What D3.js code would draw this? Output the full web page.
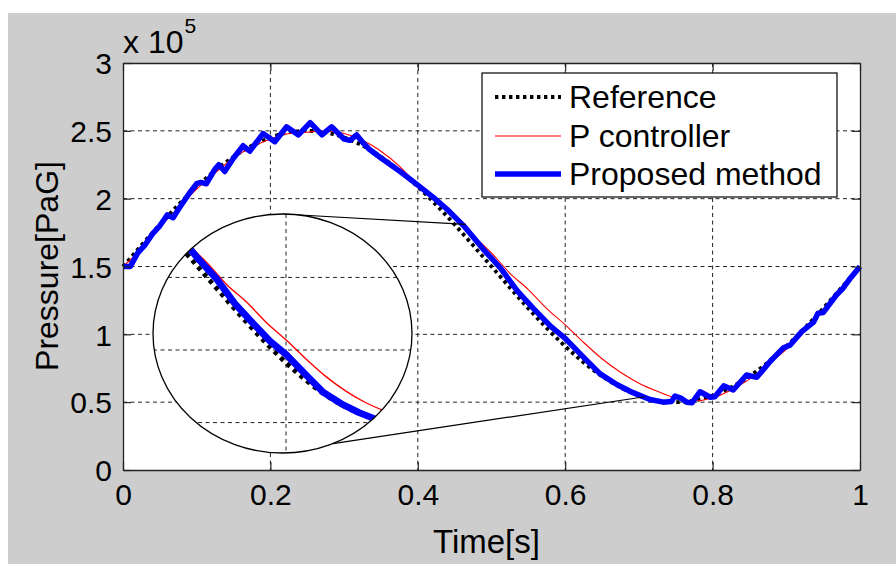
<!DOCTYPE html>
<html><head><meta charset="utf-8">
<script src="https://cdn.jsdelivr.net/npm/d3@7"></script>
<style>
body{margin:0;background:#fff;}
svg{display:block;font-family:"Liberation Sans",Arial,sans-serif;}
</style>
</head><body>
<svg id="chart" width="896" height="564"></svg>
<script>
// ---------- DATA (pressure in units of 1e5 PaG) ----------
const xTickValues = [0, 0.2, 0.4, 0.6, 0.8, 1];
const xTickLabels = ["0", "0.2", "0.4", "0.6", "0.8", "1"];
const yTickValues = [0, 0.5, 1, 1.5, 2, 2.5, 3];
const yTickLabels = ["0", "0.5", "1", "1.5", "2", "2.5", "3"];
const seriesNames = ["Reference", "P controller", "Proposed method"];

const refTime = [0,0.025,0.05,0.075,0.1,0.125,0.15,0.175,0.2,0.225,0.25,0.275,0.3,0.325,0.35,0.375,0.4,0.425,0.45,0.475,0.5,
  0.525,0.55,0.575,0.6,0.625,0.65,0.675,0.7,0.725,0.75,0.775,0.8,0.825,0.85,0.875,0.9,0.925,0.95,0.975,1];
const refPressure = [1.5,1.656,1.809,1.954,2.088,2.207,2.309,2.391,2.451,2.488,2.5,2.488,2.451,2.391,2.309,2.207,2.088,1.954,1.809,1.656,1.5,
  1.344,1.191,1.046,0.912,0.793,0.691,0.609,0.549,0.512,0.5,0.512,0.549,0.609,0.691,0.793,0.912,1.046,1.191,1.344,1.5];

const pTime = [0,0.025,0.05,0.075,0.1,0.125,0.15,0.175,0.2,0.225,0.25,0.275,0.3,0.325,0.35,0.375,0.4,0.425,0.45,0.475,0.5,
  0.525,0.55,0.575,0.6,0.625,0.65,0.675,0.7,0.725,0.75,0.775,0.8,0.825,0.85,0.875,0.9,0.925,0.95,0.975,1];
const pPressure = [1.5,1.63,1.79,1.93,2.07,2.19,2.30,2.38,2.44,2.48,2.49,2.50,2.48,2.43,2.35,2.24,2.10,1.99,1.87,1.73,1.60,
  1.45,1.33,1.19,1.07,0.94,0.82,0.72,0.64,0.58,0.53,0.51,0.53,0.59,0.67,0.78,0.89,1.03,1.18,1.33,1.49];

const propTime = [0,0.010,0.020,0.030,0.040,0.050,0.060,0.068,0.075,0.090,0.100,0.106,0.113,0.125,0.130,0.138,0.150,0.163,0.172,
  0.190,0.206,0.222,0.238,0.254,0.270,0.283,0.300,0.308,0.317,0.326,0.335,0.350,0.376,0.400,0.421,0.440,0.464,0.490,0.512,
  0.535,0.557,0.580,0.600,0.625,0.647,0.670,0.692,0.715,0.733,0.744,0.749,0.757,0.765,0.772,0.783,0.797,0.803,0.815,0.828,
  0.846,0.860,0.878,0.896,0.905,0.921,0.937,0.943,0.950,0.968,0.977,0.985,1.000];
const propPressure = [1.50,1.50,1.60,1.66,1.74,1.80,1.88,1.86,1.92,2.04,2.11,2.12,2.11,2.22,2.25,2.20,2.30,2.39,2.35,
  2.48,2.42,2.53,2.47,2.56,2.47,2.53,2.44,2.43,2.47,2.41,2.36,2.30,2.20,2.10,2.01,1.92,1.79,1.62,1.49,
  1.32,1.19,1.06,0.97,0.83,0.71,0.63,0.57,0.52,0.50,0.505,0.545,0.53,0.50,0.495,0.577,0.536,0.54,0.62,0.59,
  0.70,0.683,0.80,0.90,0.92,1.02,1.09,1.155,1.16,1.29,1.34,1.40,1.50];

// ---------- LAYOUT ----------
const svg = d3.select("#chart");
const W = 896, H = 564;
const plot = {left: 123, right: 860, top: 63, bottom: 470};

svg.append("rect").attr("x", 8).attr("y", 13).attr("width", W - 8).attr("height", H - 13).attr("fill", "#cdcdcd");

const x = d3.scaleLinear().domain([0, 1]).range([plot.left, plot.right]);
const y = d3.scaleLinear().domain([0, 3]).range([plot.bottom, plot.top]);

svg.append("rect").attr("x", plot.left).attr("y", plot.top)
  .attr("width", plot.right - plot.left).attr("height", plot.bottom - plot.top).attr("fill", "#fff");

// grid
const gridColor = "#222";
const grid = svg.append("g").attr("stroke", gridColor).attr("stroke-width", 1).attr("stroke-dasharray", "4,3.5");
xTickValues.filter(v => v > 0 && v < 1).forEach(v => {
  grid.append("line").attr("x1", x(v)).attr("x2", x(v)).attr("y1", plot.top).attr("y2", plot.bottom);
});
yTickValues.filter(v => v > 0 && v < 3).forEach(v => {
  grid.append("line").attr("y1", y(v)).attr("y2", y(v)).attr("x1", plot.left).attr("x2", plot.right);
});

// series
const pts = (T, P) => T.map((t, i) => [t, P[i]]);
const refData = pts(refTime, refPressure);
const pData = pts(pTime, pPressure);
const propData = pts(propTime, propPressure);

function drawSeries(g, xs, ys, scaleW) {
  const smooth = d3.line().x(d => xs(d[0])).y(d => ys(d[1])).curve(d3.curveMonotoneX);
  const lin = d3.line().x(d => xs(d[0])).y(d => ys(d[1]));
  g.append("path").attr("d", smooth(refData)).attr("fill", "none").attr("stroke", "#000")
    .attr("stroke-width", 3.8 * scaleW).attr("stroke-dasharray", `${3.4*scaleW},${3.6*scaleW}`);
  g.append("path").attr("d", smooth(pData)).attr("fill", "none").attr("stroke", "#ff0000")
    .attr("stroke-width", 1.1 * scaleW);
  g.append("path").attr("d", lin(propData)).attr("fill", "none").attr("stroke", "#0000ff")
    .attr("stroke-width", 5.5 * scaleW).attr("stroke-linejoin", "round");
}
drawSeries(svg.append("g"), x, y, 1);

// axes box + ticks (inward, all four sides)
const axisColor = "#222";
const axG = svg.append("g");
const axBottom = d3.axisBottom(x).tickValues(xTickValues).tickFormat((d, i) => xTickLabels[i]).tickSizeInner(-8).tickSizeOuter(0).tickPadding(14);
const axTop = d3.axisTop(x).tickValues(xTickValues).tickFormat("").tickSizeInner(-8).tickSizeOuter(0);
const axLeft = d3.axisLeft(y).tickValues(yTickValues).tickFormat((d, i) => yTickLabels[i]).tickSizeInner(-8).tickSizeOuter(0).tickPadding(11);
const axRight = d3.axisRight(y).tickValues(yTickValues).tickFormat("").tickSizeInner(-8).tickSizeOuter(0);
function styleAxis(g) {
  g.selectAll("path").attr("stroke", axisColor).attr("stroke-width", 1.3);
  g.selectAll("line").attr("stroke", axisColor).attr("stroke-width", 1.2);
  g.selectAll("text").attr("fill", "#000").attr("font-size", 30).attr("font-family", "Liberation Sans, Arial, sans-serif");
}
axG.append("g").attr("transform", `translate(0,${plot.bottom})`).call(axBottom).call(styleAxis);
axG.append("g").attr("transform", `translate(0,${plot.top})`).call(axTop).call(styleAxis);
axG.append("g").attr("transform", `translate(${plot.left},0)`).call(axLeft).call(styleAxis)
  .selectAll("text").attr("dy", "0.36em");
axG.append("g").attr("transform", `translate(${plot.right},0)`).call(axRight).call(styleAxis);

// exponent label
const expT = svg.append("text").attr("x", plot.left).attr("y", 53).attr("font-size", 32).attr("fill", "#000");
expT.append("tspan").text("x 10");
expT.append("tspan").attr("font-size", 21).attr("dy", -20).attr("dx", 1).text("5");

// axis titles
svg.append("text").attr("x", (plot.left + plot.right) / 2 - 5).attr("y", 553).attr("text-anchor", "middle")
  .attr("font-size", 33).attr("fill", "#000").text("Time[s]");
svg.append("text").attr("transform", `translate(58,266) rotate(-90)`).attr("text-anchor", "middle")
  .attr("font-size", 32).attr("fill", "#000").text("Pressure[PaG]");

// ---------- INSET (magnified view) ----------
const ell = {cx: 282.5, cy: 333.5, rx: 129.5, ry: 119.5};
const mag = 1.07;
const xIn = d3.scaleLinear().domain([0.6, 0.8]).range([286, 286 + 0.2 * (plot.right - plot.left) * mag]);
const yIn = d3.scaleLinear().domain([1.0, 1.5]).range([350, 350 - 0.5 * (plot.bottom - plot.top) / 3 * mag]);
// connector anchors on the curve (data coords)
const zoomStart = [0.465, 1.81];
const zoomEnd = [0.708, 0.54];
svg.append("line").attr("x1", ell.cx).attr("y1", ell.cy - ell.ry).attr("x2", x(zoomStart[0])).attr("y2", y(zoomStart[1]))
  .attr("stroke", "#000").attr("stroke-width", 1.2);
const bx = ell.cx + 50.5, by = ell.cy + ell.ry * Math.sqrt(1 - Math.pow(50.5 / ell.rx, 2));
svg.append("line").attr("x1", bx).attr("y1", by).attr("x2", x(zoomEnd[0])).attr("y2", y(zoomEnd[1]))
  .attr("stroke", "#000").attr("stroke-width", 1.2);

svg.append("defs").append("clipPath").attr("id", "ellClip").append("ellipse")
  .attr("cx", ell.cx).attr("cy", ell.cy).attr("rx", ell.rx).attr("ry", ell.ry);
svg.append("ellipse").attr("cx", ell.cx).attr("cy", ell.cy).attr("rx", ell.rx).attr("ry", ell.ry).attr("fill", "#fff");
const inset = svg.append("g").attr("clip-path", "url(#ellClip)");
const ig = inset.append("g").attr("stroke", gridColor).attr("stroke-width", 1).attr("stroke-dasharray", "4,3.5");
[0.4, 0.6, 0.8].forEach(v => ig.append("line").attr("x1", xIn(v)).attr("x2", xIn(v)).attr("y1", ell.cy - ell.ry).attr("y2", ell.cy + ell.ry));
[0.5, 1.0, 1.5, 2.0].forEach(v => ig.append("line").attr("y1", yIn(v)).attr("y2", yIn(v)).attr("x1", ell.cx - ell.rx).attr("x2", ell.cx + ell.rx));
drawSeries(inset.append("g"), xIn, yIn, 1.25);
svg.append("ellipse").attr("cx", ell.cx).attr("cy", ell.cy).attr("rx", ell.rx).attr("ry", ell.ry)
  .attr("fill", "none").attr("stroke", "#000").attr("stroke-width", 1.3);

// ---------- LEGEND ----------
const lg = svg.append("g");
lg.append("rect").attr("x", 482).attr("y", 73).attr("width", 355).attr("height", 124)
  .attr("fill", "#fff").attr("stroke", "#000").attr("stroke-width", 1.2);
const legendRows = [97, 136, 174];
const legendStyles = [
  {stroke: "#000", w: 3.8, dash: "3.4,3.6"},
  {stroke: "#ff0000", w: 1.1, dash: null},
  {stroke: "#0000ff", w: 5.5, dash: null}
];
seriesNames.forEach((name, i) => {
  const ly = legendRows[i];
  const l = lg.append("line").attr("x1", 495).attr("x2", 561).attr("y1", ly).attr("y2", ly)
    .attr("stroke", legendStyles[i].stroke).attr("stroke-width", legendStyles[i].w);
  if (legendStyles[i].dash) l.attr("stroke-dasharray", legendStyles[i].dash);
  lg.append("text").attr("x", 569).attr("y", ly + 11).attr("font-size", 32).attr("fill", "#000").text(name);
});
</script>
</body></html>
